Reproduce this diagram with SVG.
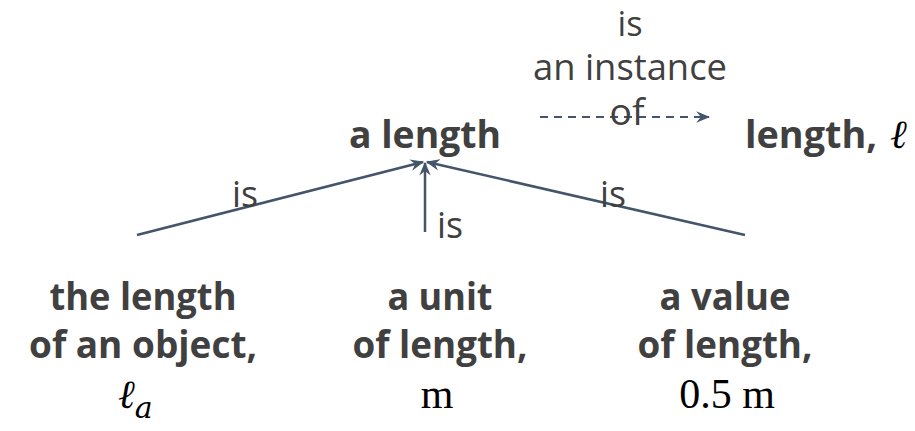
<svg xmlns="http://www.w3.org/2000/svg" width="915" height="431" viewBox="0 0 915 431">
<defs>
<style>
.b{font-family:"Open Sans","Liberation Sans",sans-serif;font-weight:bold;font-size:38px;fill:#404040;text-anchor:middle}
.r{font-family:"Open Sans","Liberation Sans",sans-serif;font-size:36px;fill:#404040;text-anchor:middle}
.m{font-family:"Liberation Serif","DejaVu Serif",serif;font-size:42px;fill:#000;text-anchor:middle}
.mi{font-family:"DejaVu Serif","Liberation Serif",serif;font-style:italic;font-size:40px;fill:#000}
.ln{stroke:#44546A;stroke-width:2.5;fill:none}
.dash{stroke:#44546A;stroke-width:2;fill:none;stroke-dasharray:8 6}
</style>
<marker id="ah" viewBox="0 0 12 10" refX="11" refY="5" markerWidth="5.5" markerHeight="5" orient="auto" markerUnits="strokeWidth">
<path d="M0,0 L12,5 L0,10 L4,5 Z" fill="#44546A"/>
</marker>
<marker id="ah2" viewBox="0 0 12 10" refX="11" refY="5" markerWidth="7" markerHeight="6" orient="auto" markerUnits="strokeWidth">
<path d="M0,0 L12,5 L0,10 L4,5 Z" fill="#44546A"/>
</marker>
</defs>
<rect width="915" height="431" fill="#fff"/>
<g id="connectors">
<line class="ln" x1="137" y1="235" x2="423" y2="162" marker-end="url(#ah)"/>
<line class="ln" x1="425" y1="232" x2="425" y2="163" marker-end="url(#ah)"/>
<line class="ln" x1="745" y1="235" x2="427" y2="162" marker-end="url(#ah)"/>
<line class="dash" x1="540" y1="117" x2="709" y2="117" marker-end="url(#ah2)"/>
<text class="r" x="245" y="207" textLength="26" lengthAdjust="spacingAndGlyphs">is</text>
<text class="r" x="450" y="238" textLength="26" lengthAdjust="spacingAndGlyphs">is</text>
<text class="r" x="613" y="207" textLength="26" lengthAdjust="spacingAndGlyphs">is</text>
<text class="r" x="630" y="36" style="font-size:34px" textLength="25" lengthAdjust="spacingAndGlyphs">is</text>
<text class="r" x="630" y="80" textLength="194" lengthAdjust="spacingAndGlyphs">an instance</text>
<text class="r" x="627" y="125" textLength="35" lengthAdjust="spacingAndGlyphs">of</text>
</g>
<g id="a-length">
<text class="b" x="425" y="148" textLength="152" lengthAdjust="spacingAndGlyphs">a length</text>
</g>
<g id="length">
<text class="b" x="745" y="148" style="text-anchor:start" textLength="132" lengthAdjust="spacingAndGlyphs">length,</text>
<text class="mi" x="890" y="148">ℓ</text>
</g>
<g id="length-of-object">
<text class="b" x="143" y="310" textLength="187" lengthAdjust="spacingAndGlyphs">the length</text>
<text class="b" x="143" y="358" textLength="228" lengthAdjust="spacingAndGlyphs">of an object,</text>
<text class="mi" x="118" y="408">ℓ<tspan font-size="30" dy="10">a</tspan></text>
</g>
<g id="unit">
<text class="b" x="440" y="310" textLength="105" lengthAdjust="spacingAndGlyphs">a unit</text>
<text class="b" x="440" y="358" textLength="175" lengthAdjust="spacingAndGlyphs">of length,</text>
<text class="m" x="437" y="408">m</text>
</g>
<g id="value">
<text class="b" x="725" y="310" textLength="131" lengthAdjust="spacingAndGlyphs">a value</text>
<text class="b" x="725" y="358" textLength="175" lengthAdjust="spacingAndGlyphs">of length,</text>
<text class="m" x="727" y="408">0.5 m</text>
</g>
</svg>
